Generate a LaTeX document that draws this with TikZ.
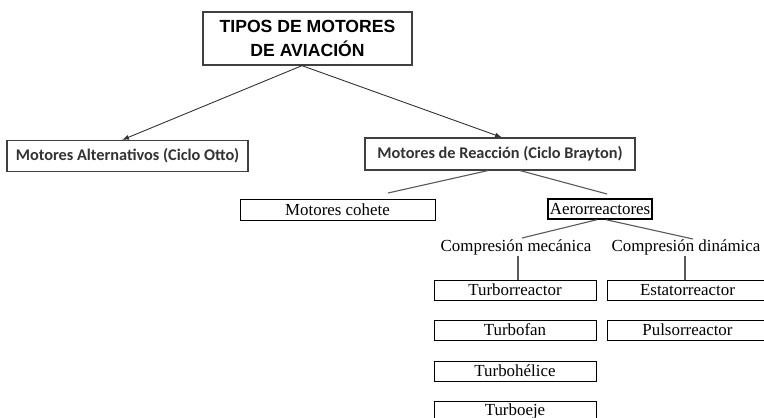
\documentclass[tikz,border=0pt]{standalone}
\usepackage{fontspec}
\setmainfont{Liberation Serif}
\newfontfamily\arialf{Liberation Sans}
\newfontfamily\calf{Carlito}
\usetikzlibrary{arrows.meta,calc}
\begin{document}
\begin{tikzpicture}[x=1pt,y=-1pt,
  titlebox/.style={draw=black!75,line width=1.3pt,minimum width=209pt,minimum height=53pt,inner sep=0pt,align=center,
    font=\arialf\bfseries\fontsize{17.6}{24}\selectfont},
  calbox/.style={draw=black!75,line width=1.1pt,minimum height=31pt,inner sep=0pt,text=black!80,
    font=\calf\bfseries\fontsize{16.3}{18}\selectfont},
  tbox/.style={draw=black,line width=1pt,minimum height=20pt,inner sep=0pt,
    font=\fontsize{16.9}{18}\selectfont},
  tlabel/.style={inner sep=0pt,font=\fontsize{16.9}{18}\selectfont},
  arr/.style={draw=black!80,line width=0.9pt,-{Latex[length=7pt,width=5pt]}},
  ln/.style={draw=black!65,line width=1.1pt}]
\clip (0,0) rectangle (764,418);
\fill[white] (0,0) rectangle (764,418);
% level 0
\node[titlebox] (top) at (307.5,38.5) {TIPOS DE MOTORES\\DE AVIACIÓN};
% level 1
\node[calbox,minimum width=241pt] (alt) at (127.5,156) {Motores Alternativos (Ciclo Otto)};
\node[calbox,minimum width=270pt,minimum height=32pt] (bray) at (500,154) {Motores de Reacción (Ciclo Brayton)};
% level 2
\node[tbox,minimum width=195pt,minimum height=21pt] (cohete) at (337.5,209.5) {Motores cohete};
\node[tbox,line width=1.4pt,minimum width=104pt] (aero) at (600,209) {Aerorreactores};
% level 3
\node[tlabel] (mec) at (516,247) {Compresión mecánica};
\node[tlabel] (din) at (686,247) {Compresión dinámica};
% level 4
\node[tbox,minimum width=162pt] (turbo) at (515,290) {Turborreactor};
\node[tbox,minimum width=162pt] (fan) at (515,330) {Turbofan};
\node[tbox,minimum width=162pt] (helice) at (515,371) {Turbohélice};
\node[tbox,minimum width=162pt] (eje) at (515,411) {Turboeje};
\node[tbox,minimum width=161pt] (estator) at (687.5,290) {Estatorreactor};
\node[tbox,minimum width=161pt] (pulso) at (687.5,330) {Pulsorreactor};
% connectors
\coordinate (c1) at (388,193);
\coordinate (c2) at (607,194);
\coordinate (c3) at (522,238);
\coordinate (c4) at (693,239);
\draw[arr] ([xshift=-5.5pt]top.south) -- ([xshift=-5.5pt]alt.north);
\draw[arr] ([xshift=-5.5pt]top.south) -- ([xshift=2pt]bray.north);
\draw[ln] ([xshift=-12pt]bray.south) -- (c1);
\draw[ln] ([xshift=20pt]bray.south) -- (c2);
\draw[ln] ([xshift=-3pt]aero.south) -- (c3);
\draw[ln] ([xshift=6pt]aero.south) -- (c4);
\draw[ln] (mec.south -| turbo.north) ++(3,1) coordinate (v1) -- (v1 |- turbo.north);
\draw[ln] (din.south) ++(-1,1) coordinate (v2) -- (v2 |- estator.north);
\end{tikzpicture}
\end{document}
